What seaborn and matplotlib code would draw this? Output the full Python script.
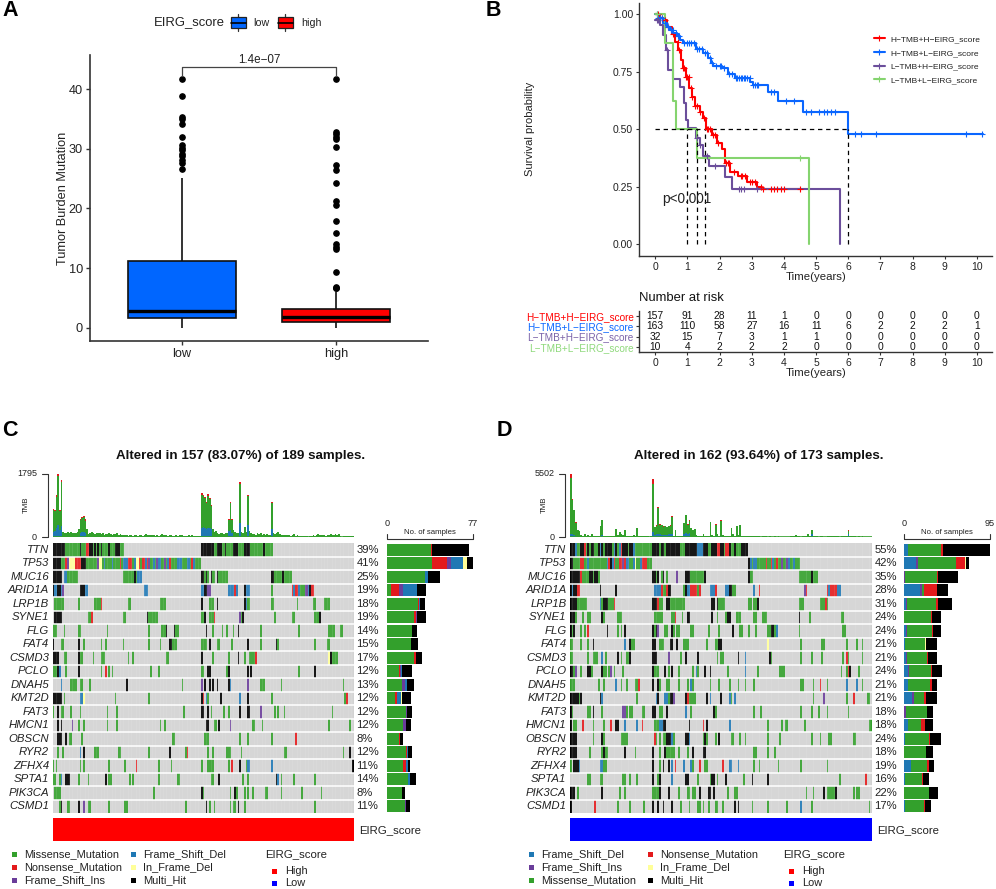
import re
import numpy as np
import pandas as pd
import seaborn as sns
import matplotlib
matplotlib.use("Agg")
import matplotlib.pyplot as plt
from matplotlib.colors import ListedColormap
from matplotlib.lines import Line2D
from matplotlib.patches import Rectangle

W, H = 996, 889

# =====================
# Panel A data
# =====================
low_box = [0.0, 0.2, 0.3, 0.4, 0.5, 0.6, 0.7, 0.8, 0.9, 1.0, 1.1, 1.2, 1.3, 1.4, 1.6, 1.7,
           1.8, 1.9, 1.9, 2.0, 2.1, 2.1, 2.2, 2.3, 2.4, 2.4, 2.5, 2.6, 2.7, 2.7, 2.8,
           3.1, 3.4, 3.8, 4.2, 4.7, 5.1, 5.6, 6.2, 6.8, 7.4, 8.1, 8.8, 9.6, 10.4, 11.2, 25.1]
low_out = [26.6, 27.6, 28.1, 28.8, 29.2, 29.8, 30.2, 30.6, 31.9, 34.1, 34.9, 35.3, 38.9, 41.6]
high_box = [0.0, 0.1, 0.1, 0.2, 0.2, 0.3, 0.3, 0.3, 0.4, 0.4, 0.5, 0.5, 0.5, 0.6, 0.6, 0.7, 0.7, 0.7, 0.8, 0.8, 0.8, 0.9,
            0.9, 1.0, 1.0, 1.0, 1.1, 1.1, 1.2, 1.2, 1.3, 1.3, 1.4, 1.4, 1.5, 1.5, 1.6, 1.6, 1.7, 1.7, 1.8, 1.8, 1.9,
            1.9, 2.0, 2.0, 2.1, 2.1, 2.2, 2.2, 2.3, 2.3, 2.4, 2.4, 2.5, 2.5, 2.6, 2.7, 2.7, 2.8, 2.9, 3.0, 3.1, 3.2, 6.0]
high_out = [6.7, 6.75, 6.9, 9.4, 13.2, 13.6, 14.0, 15.9, 17.9, 20.5, 21.3, 24.2, 26.5, 27.2, 30.3,
            31.7, 32.0, 32.4, 32.8, 41.6]

# =====================
# Panel B data
# =====================
km_labels = ["H\u2212TMB+H\u2212EIRG_score", "H\u2212TMB+L\u2212EIRG_score",
             "L\u2212TMB+H\u2212EIRG_score", "L\u2212TMB+L\u2212EIRG_score"]
km_colors = ["#FF0000", "#0A66FF", "#6B4E9B", "#85D46F"]
hh_time = [0, .14, .25, .35, .51, .61, .72, .79, .85, .95, 1.06, 1.13, 1.23, 1.39, 1.49, 1.57, 1.75, 1.91, 2.06, 2.17, 2.32, 2.58, 2.84, 3.15, 3.31, 4.5]
hh_surv = [1, .985, .975, .946, .917, .881, .845, .80, .765, .729, .678, .642, .601, .577, .548, .50, .475, .439, .414, .352, .316, .299, .272, .251, .239, .239]
hl_time = [0, .08, .25, .36, .46, .56, .66, .76, .87, 1.08, 1.28, 1.49, 1.65, 1.72, 1.80, 2.06, 2.27, 2.48, 2.96, 3.05, 3.51, 3.83, 4.60, 6.0, 10.2]
hl_surv = [1, .985, .961, .945, .932, .92, .906, .89, .877, .874, .848, .833, .809, .79, .775, .765, .741, .725, .707, .694, .664, .622, .577, .478, .478]
lh_time = [0, .15, .25, .32, .40, .54, .77, .89, .95, 1.03, 1.28, 1.39, 1.47, 1.67, 2.17, 2.37, 5.74, 5.74]
lh_surv = [.975, .954, .91, .845, .758, .719, .683, .613, .541, .507, .461, .432, .384, .342, .294, .242, .242, 0]
ll_time = [0, .30, .56, .64, 1.31, 4.79, 4.79]
ll_surv = [1, .877, .625, .50, .374, .374, 0]
hh_cens = [.1, .2, .3, .4, .55, .7, .75, .85, .9, .95, 1.0, 1.05, 1.1, 1.15, 1.25, 1.3, 1.4, 1.5, 1.6, 1.65, 1.7, 1.8, 1.85,
           1.95, 2.2, 2.25, 2.3, 2.45, 2.65, 2.7, 2.8, 2.95, 3.0, 3.1, 3.3, 3.35, 3.6, 3.7, 3.8, 3.9, 4.0, 4.5]
hl_cens = [.05, .1, .15, .2, .3, .4, .5, .55, .65, .7, .75, .9, 1.0, 1.05, 1.1, 1.2, 1.3, 1.35, 1.45, 1.55, 1.6, 1.7, 1.75,
           1.9, 2.0, 2.05, 2.15, 2.3, 2.4, 2.5, 2.55, 2.6, 2.65, 2.7, 2.75, 2.8, 2.85, 2.95, 3.05, 3.1, 3.15, 3.2, 3.6, 3.7,
           4.05, 4.3, 4.7, 4.85, 5.1, 5.25, 5.35, 5.45, 5.6, 6.2, 6.4, 6.85, 9.65, 10.15]
lh_cens = [.05, .1, .35, 1.3, 1.4, 1.6, 1.85, 2.6, 2.65, 2.75, 3.15]
ll_cens = [.05, 4.5]
median_times = [1.0, 1.3, 1.55, 6.0]
risk_hh = [157, 91, 28, 11, 1, 0, 0, 0, 0, 0, 0]
risk_hl = [163, 110, 58, 27, 16, 11, 6, 2, 2, 2, 1]
risk_lh = [32, 15, 7, 3, 1, 1, 0, 0, 0, 0, 0]
risk_ll = [10, 4, 2, 2, 2, 0, 0, 0, 0, 0, 0]

# =====================
# Oncoplot data
# =====================
genes = ["TTN", "TP53", "MUC16", "ARID1A", "LRP1B", "SYNE1", "FLG", "FAT4", "CSMD3", "PCLO",
         "DNAH5", "KMT2D", "FAT3", "HMCN1", "OBSCN", "RYR2", "ZFHX4", "SPTA1", "PIK3CA", "CSMD1"]
# M missense, N nonsense, I frame shift ins, D frame shift del, F in frame del, H multi hit
c_rows = [
    "H0-7 M8-16 H17 M18-20 N21-22 H23-24 M25 H26 M27 H28 M29 H30 M31-34 H35 M36-38 H39-41 M42-44 H93-100 M101-102 H103-105 M106-107 H108 M109-112 H113-115 M116-119 H120-123 M124-131 H132 M133-137",
    "H0-4 M5-7 N8 I9 F10-13 N14-17 H18-20 M21-27 I28 F29-30 M31 D32 M33-36 D37 M38-41 N42 M43 D44-46 N47-49 M50 D51 F52-53 N54 M55 N56-57 D58 N59 I60 M61-62 D63 M64 I65 D66-67 M68-69 I70 M71 D72 N73 M74-77 D78-80 M81-83 D84-85 M86 N87 D88 M89-92",
    "H0-5 D7-8 M9-15 M44-50 H51 M52 D53-55 H93-94 M95 H96 M97 H99 M100-101 H103 M104-109 H137-138 M139-143 H144 M145-149",
    "H0 D1-2 H3-4 D5 I6 H17-20 D20-21 D57-59 D93-94 H95-96 I97-98 D110-113 N114 D115 H120 D121-123 M137 N150 D151 N152-153 D154 M155-157 I158-159 D160 H161 N162-163",
    "M1-6 M16 M26-29 N30 M47-48 M67-70 H93 M98-100 H103 H120 D121 M122-123 M137-138 M153 M163-164 M170-173",
    "H1-5 M22-23 N24 M44-45 H59 M60-65 M93-94 H95 M98 M99-100 N101 I117 M118 H119 M139 M150-151 M164-166 H167",
    "M0-2 M7 M16-17 M34 M60 M68-70 H71 H76 M77-78 H96 M100 M106 M109 M113 H116 M130 M154 M173-176 M180-181",
    "H0 M5-6 H16 M19 M30 M33 M44 M60 M67 H73-74 M75-77 M93-96 H98 M103-104 M112 H122 M130 H140 M141 M164 M172-173",
    "H0-3 M7-8 H16 M17-18 M25 M30-32 M47 M50 M71-72 H93 M100 M110 H116 M120 M123-126 N127 F173 H174 M175-178",
    "M0-2 H3 D4 M8 H16 M30 N33 M35 M37 M61 M66 M93-94 H97-98 M109 H110 H122 H124 M154 H164",
    "D5 M11-14 M17-18 M23 H46 M81 I93 H95 H98 H100 H103 H110 D111 I122 M130-132 M143 M182",
    "H0-5 M7 D17-18 F19 M39 M60 H93 N94 D96 M97 H105 D117 H122 M137 M183 N184",
    "M0 H3 M5-6 M11 M17 M34 M40 M82 H93-94 H97 M99 M107 M110 H117 H122-123 I130 M139 M141 M145 M175",
    "H3 H5 I12 M16 M19 M34 M40 M67 M70 H96-97 M101-102 H104 I111 M125-126 M131 M173 M186",
    "H3-5 H8 M10-11 M18 M75-76 M95-97 M117 M122 M137 N152",
    "M3 M6 D17 H19 M26-28 M41-42 M60 H73 M83 N84 M97 M100 M109-111 M118 M145-146 M182 H186",
    "M0 M2 M17 M19 M35 M45 N52 M66 M74 M93 M97-100 M110 N112 H117 M121 D122-123 D137 H188",
    "M0-1 M4 D5 H8-10 M16 M22 H33 M35-36 M48 M50 M66 M78-79 M99-100 H104 M119 M122 H140 D141 M143 M151 M164",
    "M1-4 M63 H93 M94 M111 H114 M115 M120 M122 M125 M133-134 M143 M156 M168",
    "M4 H5 M9-10 H16 I19 M22-23 M35 M45-46 M83 H96 M98 M101 M111 M113-114 H116 M120 M164",
]
d_rows = [
    "H0-2 D3 M4-5 H6-7 N8 M9 H10 M11 H12-13 M14-15 H16 D17 H18 M19 H20-23 M24 D25 H26 M27 D28 N29 H30-32 M33 H34-35 D36 M37-46 H47-50 M51 H52-53 M54 H55-62 M63-65 H66-72 D73-75 H76-78 M79-80 H81-83 N84-85 H86-87 M88 N89-90 H91 M92-93 H94 M95-97 H98-101",
    "H0-1 M2-5 N6-7 M8-9 D10 M11-20 D21 N22 H23 D24 N25 M26-27 N28-29 I30 N31 D32-33 M34-35 D36 F37 M38-39 D40 N41-43 M44-46 H102 D103 M104 D105-106 M107-111 N112 M113-114 N115 D116 M117 N118 M119-120 I121 M122-123 I124 D125 M126-127 D128 M129-131",
    "H0-5 N6 M7-10 H11-12 M13 H14-15 M16 H47-48 M49 H50 M52 H53 M55 I61 H66-68 M69-76 H77 H102 M103-104 M131-137 H138 M139-141",
    "H0 D1 H2-3 N4-5 H17 H26 D48-51 N52 M53-54 N55 H56-57 M65 H66 D67-68 N69-72 M73 N74 D80-82 N83 D89-90 H91-92 M93-94 D105 N108 I134 N135 N147 D148 N149-152 D153-154",
    "H0-3 M4-9 D17 M18 H19-21 M22-24 N25 H47-49 N50 M51-52 H55-56 M57-65 H81-82 H84 M85-88 M102-103 M105-106 H107 M131-133 M143-145 N146 M147",
    "H0-2 M3 M7 M10-11 H18 M19 M27-29 M48-52 M58-59 N60 M64 H67-68 H81 M84 M89 H90-91 M95-97 M105-106 M110-112 H131 M137 M155-156",
    "H0 M1 H2 M6 M8 N10 H21 M27 M29 H31 H47 M48 H49 I50 M54-55 H58 M59 M61-62 M69-70 M79 M85 H93 M97-98 M102 M106 M113-114 H115-116 M117 D118 M131 M156-157",
    "M0-1 M6 M10 H13 D31 H34 M35-36 H47-48 M51-53 H57-58 H61 M65-67 M78 M83-84 H85-86 F113 M132 M144-145 M158 M164 M167",
    "M0-1 M10 M13-15 D18 M20 H27 M29 M32-33 H34 H47-49 I56 M63 H66 H73 M84 M86-87 H96 D100 H114 M115 M132 M138 M144 M156 N158 M159 M167",
    "H0-1 M2 I3 M6 H10-11 M12 H18 M19-20 M22 I23 M25 M30 H47 M48-50 H54 M56 H58 M62 M70 D72 M73 H77 H80 M90 D100 M107 M120-122 M155 M158 N159 H160 M165",
    "M0-2 M16 M19 D26 M29 M32 M37-38 N39 H47 H50 M51 M55-56 M62 M67 D69 M70 M80 M85 M91 M96 M100 M105 M132-133 M139 N143 M147 D158 D164 M167",
    "H0-4 M5 H6 H17 D18 M38 D49 H50 D54-55 M56 H57-58 I59 H66 N67 M68-71 H78 D80 H86 D91 M92 D94 M139 I145 M158 N162 M170-171",
    "H0 M1 M10-11 H13 M18 I30-31 M32 M34-35 M41-42 H47-48 M51-52 H55 D66 M69 H82 M83 M105 M109 M132 M138 M142 M147 M159",
    "H0 M2-3 N7 M13 M19 N23 H26-27 D31 D38 N41 M48-50 D51-52 H53-54 H68 N76 H78 D91 M113 M121 M123-124 M134 M171-172",
    "H0-3 M13 H18 M19 M29-32 N48 M49 M51 M53-54 H55-57 D58 M59 H66-67 D68 M76 H77 M78 M83 H85 M92-93 M97 M100 M113 M120 M138 M143 M148-149 M162-163",
    "H0-3 M11 M18 H19 M20-21 H31 M37 H47 M51 H54 M55-59 M62 M67 H70 H76-77 M105-106 M113 M117",
    "M0 H2-4 D5 D17-18 M19-20 H47 M51 H53 H56 D58 N60 D65 D69 M70 N74 M77-78 N87 D91-92 D96 M105 M108 M119 M132 M147",
    "M10-11 M17-18 M30-31 M34 M38 H47 M50 H51 D58 H66-67 M73 M80 H81-82 M84 H89 M99 H104 H113 M154 N169",
    "H0-2 M4 H18 M28 M31 M47-50 H51 H56 M62 M67-68 M70-71 H74 H79-80 H82 M90 M94-95 M135 M139 H145 M147-151 H152 M162 M164-165",
    "H0 N14 M27 M34 M42 H47 H50 H53 H58 M63 M68 M73-74 M76 M79 M83-84 M87 H94 H96 M104 M113 M124 D132 M138 M171",
]
c_pct = ["39%", "41%", "25%", "19%", "18%", "19%", "14%", "15%", "17%", "12%", "13%", "12%", "12%", "12%", "8%", "12%", "11%", "14%", "8%", "11%"]
d_pct = ["55%", "42%", "35%", "28%", "31%", "24%", "24%", "21%", "21%", "24%", "21%", "21%", "18%", "18%", "24%", "18%", "19%", "16%", "22%", "17%"]

# sample counts per gene in the side bars
c_missense = [40, 41, 34, 4, 28, 24, 23, 22, 24, 11, 14, 7, 17, 15, 11, 17, 15, 19, 14, 16]
c_nonsense = [1, 13, 0, 7, 1, 2, 0, 0, 2, 1, 0, 2, 0, 0, 1, 1, 2, 0, 0, 0]
c_fs_ins = [0, 4, 0, 4, 0, 1, 0, 0, 0, 1, 2, 0, 1, 2, 0, 0, 0, 0, 0, 1]
c_fs_del = [0, 10, 3, 12, 1, 0, 0, 0, 0, 1, 2, 4, 0, 0, 0, 1, 2, 2, 0, 0]
c_inframe = [0, 4, 0, 0, 0, 0, 0, 0, 0, 0, 0, 1, 0, 0, 0, 0, 0, 0, 0, 0]
c_multi = [33, 5, 11, 8, 4, 8, 4, 6, 6, 9, 6, 8, 5, 5, 3, 4, 2, 5, 2, 4]
d_fs_del = [4, 13, 0, 18, 2, 0, 2, 1, 2, 4, 4, 9, 0, 4, 1, 0, 8, 1, 0, 1]
d_fs_ins = [0, 2, 1, 2, 1, 0, 1, 0, 1, 1, 0, 2, 2, 0, 0, 0, 0, 0, 0, 0]
d_missense = [37, 42, 36, 2, 32, 30, 28, 22, 22, 25, 25, 11, 23, 15, 27, 24, 17, 19, 28, 21]
d_nonsense = [2, 10, 1, 14, 3, 1, 1, 0, 1, 1, 2, 2, 0, 4, 1, 0, 3, 1, 0, 1]
d_inframe = [0, 2, 0, 0, 0, 0, 0, 1, 0, 0, 0, 0, 0, 0, 0, 0, 0, 0, 0, 0]
d_multi = [52, 3, 22, 13, 15, 10, 9, 12, 10, 11, 5, 12, 7, 9, 12, 8, 5, 7, 10, 7]

# TMB per sample
c_tmb = [790, 780, 1190, 1795, 780, 1620, 140, 110, 120, 130,
         100, 130, 120, 100, 110, 130, 240, 525, 560, 590,
         500, 220, 90, 110, 130, 100, 80, 110, 100, 120,
         90, 100, 70, 90, 80, 110, 90, 70, 80, 90,
         110, 60, 80, 70, 60, 50, 60, 40, 50, 60,
         40, 70, 50, 40, 60, 50, 30, 60, 80, 70,
         60, 50, 70, 60, 40, 50, 40, 50, 90, 60,
         70, 60, 40, 50, 60, 40, 30, 50, 40, 50,
         60, 50, 40, 30, 40, 50, 30, 60, 40, 30,
         40, 20, 30, 1240, 1190, 1150, 1000, 1220, 1100, 900,
         240, 130, 180, 110, 90, 100, 120, 90, 110, 100,
         525, 1000, 525, 210, 140, 100, 110, 1575, 150, 120,
         290, 130, 1210, 180, 100, 90, 80, 70, 110, 90,
         100, 70, 80, 60, 90, 70, 60, 1000, 120, 90,
         100, 140, 90, 60, 70, 50, 60, 70, 50, 40,
         60, 80, 40, 50, 30, 20, 30, 40, 20, 30,
         10, 30, 20, 60, 40, 50, 90, 70, 60, 50,
         60, 40, 50, 60, 90, 50, 70, 90, 60, 80,
         20, 10, 20, 30, 40, 30, 20, 30, 20]
c_base_idx = [0, 1, 2, 3, 4, 5, 16, 17, 18, 19, 20, 93, 94, 95, 96, 97, 98, 99, 110, 111, 112, 117, 122, 137]
c_base_val = [150, 170, 250, 330, 200, 300, 30, 110, 130, 130, 120, 250, 290, 260, 230, 270, 250, 240, 160, 200, 110, 390, 330, 230]
c_tip_val = [30, 30, 40, 50, 30, 50, 15, 30, 30, 30, 30, 40, 30, 40, 30, 40, 30, 30, 30, 40, 30, 60, 40, 40]
d_tmb = [5500, 3280, 2400, 1300, 640, 520, 180, 120, 240, 100,
         160, 90, 240, 70, 120, 80, 60, 1000, 1520, 130,
         90, 70, 60, 110, 80, 100, 730, 150, 440, 280,
         170, 640, 120, 90, 100, 60, 140, 90, 820, 110,
         70, 100, 60, 80, 50, 40, 60, 5030, 880, 1020,
         2630, 1100, 1050, 950, 1000, 900, 980, 1020, 1840, 90,
         580, 120, 100, 90, 60, 1230, 1960, 1100, 1460, 790,
         600, 730, 180, 100, 120, 60, 250, 130, 80, 90,
         1320, 140, 100, 1110, 250, 130, 1460, 180, 90, 120,
         70, 100, 790, 300, 100, 970, 140, 1080, 80, 60,
         90, 50, 70, 110, 60, 80, 120, 60, 70, 40,
         50, 60, 70, 40, 60, 30, 40, 50, 30, 60,
         40, 30, 20, 40, 30, 30, 60, 110, 80, 150,
         60, 100, 40, 70, 50, 60, 250, 90, 640, 90,
         60, 50, 40, 60, 50, 30, 40, 60, 50, 120,
         60, 80, 130, 60, 40, 60, 50, 100, 90, 580,
         120, 60, 80, 50, 40, 60, 40, 50, 30, 40, 30, 30, 20]
d_base_idx = [0, 1, 2, 3, 17, 18, 47, 48, 49, 50, 51, 52, 53, 54, 55, 56, 57, 58, 65, 66, 67, 68, 80, 83, 86, 138, 159]
d_base_val = [260, 220, 180, 100, 120, 200, 420, 200, 230, 260, 220, 210, 190, 210, 200, 230, 240, 250, 300, 350, 280, 320, 100, 90, 120, 300, 280]
d_tip_val = [320, 60, 60, 60, 40, 60, 380, 40, 40, 70, 40, 40, 40, 40, 40, 40, 40, 70, 40, 60, 40, 40, 50, 40, 50, 30, 30]

mut_colors = {"M": "#33A02C", "N": "#E31A1C", "I": "#6A3D9A", "D": "#1F78B4", "F": "#FFFF99", "H": "#000000"}
mut_codes = {"M": 1, "N": 2, "I": 3, "D": 4, "F": 5, "H": 6}


def px_axes(fig, left, top, right, bottom):
    return fig.add_axes([left / W, 1 - bottom / H, (right - left) / W, (bottom - top) / H])


def build_matrix(rows, n_samples):
    mat = np.zeros((len(rows), n_samples), dtype=int)
    for r, row in enumerate(rows):
        for code, a, b in re.findall(r"([A-Z])(\d+)(?:-(\d+))?", row):
            mat[r, int(a):int(b or a) + 1] = mut_codes[code]
    return mat


sns.set_theme(style="white")
plt.rcParams["font.family"] = ["Liberation Sans", "DejaVu Sans"]
plt.rcParams["axes.unicode_minus"] = True

fig = plt.figure(figsize=(W / 100, H / 100), dpi=100, facecolor="white")

# =====================
# A: boxplot
# =====================
ax_a = px_axes(fig, 90, 55, 428, 341)
box_df = pd.DataFrame({
    "group": ["low"] * len(low_box + low_out) + ["high"] * len(high_box + high_out),
    "tmb": low_box + low_out + high_box + high_out,
})
sns.boxplot(data=box_df, x="group", y="tmb", hue="group", palette={"low": "#0066FF", "high": "#FF0000"},
            saturation=1, width=0.7, dodge=False, legend=False, linecolor="#111111", linewidth=1.2, showcaps=False,
            medianprops={"linewidth": 2.4, "color": "black"},
            flierprops={"marker": "o", "markersize": 3.8, "markerfacecolor": "black", "markeredgecolor": "black"},
            ax=ax_a)
ax_a.set_xlim(-0.597, 1.597)
ax_a.set_ylim(-2.2, 45.7)
ax_a.set_yticks([0, 10, 20, 30, 40])
ax_a.set_xlabel("")
ax_a.set_ylabel("Tumor Burden Mutation", fontsize=9.2, color="#222222", labelpad=0)
ax_a.tick_params(axis="both", length=3, width=1, color="#333333", labelsize=9.2, labelcolor="#222222", left=True, bottom=True, pad=2)
sns.despine(ax=ax_a)
for side in ["left", "bottom"]:
    ax_a.spines[side].set_linewidth(1.2)
    ax_a.spines[side].set_color("#333333")
ax_a.plot([0, 0, 1, 1], [42.2, 43.7, 43.7, 42.2], color="#444444", lw=0.9)
ax_a.text(0.5, 43.8, "1.4e\u221207", ha="center", va="bottom", fontsize=8.4, color="#222222")

# =====================
# B: survival curves
# =====================
ax_b = px_axes(fig, 639.3, 3, 992, 255.7)
km_curves = [(hh_time, hh_surv, hh_cens), (hl_time, hl_surv, hl_cens), (lh_time, lh_surv, lh_cens), (ll_time, ll_surv, ll_cens)]
for label, color, (times, survs, cens) in zip(km_labels, km_colors, km_curves):
    sns.lineplot(x=times, y=survs, drawstyle="steps-post", estimator=None, sort=False, color=color, lw=1.5, ax=ax_b)
    idx = np.searchsorted(times, cens, side="right") - 1
    ax_b.scatter(cens, np.array(survs)[idx], marker="+", s=22, linewidths=0.8, color=color, zorder=3)
ax_b.plot([0, 6], [0.5, 0.5], color="black", lw=0.9, ls=(0, (3.5, 3)))
for t in median_times:
    ax_b.plot([t, t], [0, 0.5], color="black", lw=0.9, ls=(0, (3.5, 3)))
ax_b.set_xlim(-0.497, 10.47)
ax_b.set_ylim(-0.05, 1.05)
ax_b.set_xticks(range(0, 11))
ax_b.set_yticks([0, 0.25, 0.5, 0.75, 1.0], ["0.00", "0.25", "0.50", "0.75", "1.00"])
ax_b.tick_params(axis="both", length=2.5, width=0.8, color="#333333", labelsize=7.5, labelcolor="#222222", left=True, bottom=True, pad=2)
ax_b.set_xlabel("Time(years)", fontsize=8.2, color="#222222", labelpad=0)
ax_b.set_ylabel("")
sns.despine(ax=ax_b)
for side in ["left", "bottom"]:
    ax_b.spines[side].set_linewidth(1)
    ax_b.spines[side].set_color("#333333")
ax_b.text(0.22, 0.195, "p<0.001", fontsize=9.8, color="#222222", va="center")
handles = [Line2D([], [], color=c, lw=1.5, marker="+", ms=5, mew=0.8) for c in km_colors]
ax_b.legend(handles, km_labels, frameon=False, fontsize=6, handlelength=1.3, handletextpad=0.7, labelspacing=0.7,
            loc="upper left", bbox_to_anchor=(0.665, 0.872), borderpad=0, borderaxespad=0, labelcolor="#222222")

# risk table
ax_r = px_axes(fig, 639.3, 311, 992, 352)
risk_rows = [risk_hh, risk_hl, risk_lh, risk_ll]
for r, row in enumerate(risk_rows):
    for t, n in enumerate(row):
        ax_r.text(t, 3 - r, str(n), ha="center", va="center", fontsize=7.4, color="#111111")
ax_r.set_xlim(-0.497, 10.47)
ax_r.set_ylim(-0.5, 3.5)
ax_r.set_xticks(range(0, 11))
ax_r.set_yticks([3, 2, 1, 0], km_labels)
for tick, c in zip(ax_r.get_yticklabels(), ["#FF0000", "#0A66FF", "#7A62A8", "#8FD97C"]):
    tick.set_color(c)
ax_r.tick_params(axis="both", length=2.5, width=0.8, color="#333333", labelsize=7.2, left=True, bottom=True, pad=1.5)
ax_r.tick_params(axis="x", labelcolor="#222222", labelsize=7.5, pad=2)
ax_r.set_xlabel("Time(years)", fontsize=8.2, color="#222222", labelpad=0)
sns.despine(ax=ax_r)
for side in ["left", "bottom"]:
    ax_r.spines[side].set_linewidth(1)
    ax_r.spines[side].set_color("#333333")

# overlay in pixel coordinates for labels and legend keys
ov = fig.add_axes([0, 0, 1, 1], zorder=10)
ov.set_xlim(0, W)
ov.set_ylim(H, 0)
ov.axis("off")


# =====================
# C / D: oncoplots
# =====================
def oncoplot(left, right, rows, tmb, base_idx, base_val, tip_val, stacks, stack_cols, pct, title, title_x,
             tmb_label, bar_left, bar_max, note_color):
    n = len(tmb)
    top, bottom = 543, 813
    # TMB bars
    ax_t = px_axes(fig, left, 474, right, 537)
    tmb = np.array(tmb, dtype=float)
    base = np.zeros(n)
    base[base_idx] = base_val
    tip = np.zeros(n)
    tip[base_idx] = tip_val
    x = np.arange(n) + 0.5
    ax_t.axhline(0, color=mut_colors["M"], lw=1.2)
    ax_t.bar(x, base, width=1, color=mut_colors["D"], lw=0)
    ax_t.bar(x, tmb - base - tip, bottom=base, width=1, color=mut_colors["M"], lw=0)
    ax_t.bar(x, tip, bottom=tmb - tip, width=1, color=mut_colors["N"], lw=0)
    ax_t.set_xlim(0, n)
    ax_t.set_ylim(0, tmb_label)
    ax_t.axis("off")

    # mutation matrix
    ax_m = px_axes(fig, left, top, right, bottom)
    mat = build_matrix(rows, n)
    cmap = ListedColormap(["#D2D2D2"] + [mut_colors[k] for k in "MNIDFH"])
    sns.heatmap(mat, cmap=cmap, vmin=-0.5, vmax=6.5, cbar=False, xticklabels=False, yticklabels=False, ax=ax_m)
    ax_m.vlines(np.arange(1, n), 0, len(rows), color="white", lw=0.3, alpha=0.45)
    ax_m.hlines(np.arange(1, len(rows)), 0, n, color="white", lw=1.1)

    # side bars
    ax_s = px_axes(fig, bar_left, top, bar_left + 86, bottom)
    start = np.zeros(len(genes))
    y = np.arange(len(genes)) + 0.5
    for vals, col in zip(stacks, stack_cols):
        ax_s.barh(y, vals, left=start, height=0.88, color=mut_colors[col], lw=0)
        start += np.array(vals)
    ax_s.set_xlim(0, bar_max)
    ax_s.set_ylim(len(genes), 0)
    ax_s.axis("off")

    row_h = (bottom - top) / len(genes)
    for i, g in enumerate(genes):
        yy = top + (i + 0.5) * row_h
        ov.text(left - 3.5, yy, g, ha="right", va="center", style="italic", fontsize=8.2, color="#222222")
        ov.text(right + 2.5, yy, pct[i], ha="left", va="center", fontsize=8.1, color="#222222")

    ov.text(title_x, 456, title, ha="center", va="center", fontsize=9.6, weight="bold", color="#111111")
    # TMB axis
    ax_x = left - 4.7
    ov.plot([ax_x - 6, ax_x, ax_x, ax_x - 6], [474, 474, 537, 537], color="#333333", lw=0.8)
    ov.text(ax_x - 11, 474, str(tmb_label), ha="right", va="center", fontsize=6.5, color="#222222")
    ov.text(ax_x - 11, 537, "0", ha="right", va="center", fontsize=6.5, color="#222222")
    ov.text(left - 26, 505, "TMB", rotation=90, ha="center", va="center", fontsize=5.7, color="#222222")
    # side bar axis
    br = bar_left + 86
    ov.plot([bar_left, bar_left, br, br], [534, 539, 539, 534], color="#333333", lw=0.8)
    ov.text(bar_left, 523.5, "0", ha="center", va="center", fontsize=6.6, color="#222222")
    ov.text(br, 523.5, str(bar_max), ha="center", va="center", fontsize=6.6, color="#222222")
    ov.text(bar_left + 43, 532, "No. of samples", ha="center", va="center", fontsize=5.6, color="#222222")
    # annotation bar
    ov.add_patch(Rectangle((left, 818), right - left, 23, color=note_color, lw=0))
    ov.text(right + 5, 830, "EIRG_score", ha="left", va="center", fontsize=8.2, color="#222222")


oncoplot(52.7, 354, c_rows, c_tmb, c_base_idx, c_base_val, c_tip_val,
         [c_missense, c_nonsense, c_fs_ins, c_fs_del, c_inframe, c_multi], "MNIDFH", c_pct,
         "Altered in 157 (83.07%) of 189 samples.", 241, 1795, 386.7, 77, "#FF0000")
oncoplot(570, 872, d_rows, d_tmb, d_base_idx, d_base_val, d_tip_val,
         [d_fs_del, d_fs_ins, d_missense, d_nonsense, d_inframe, d_multi], "DIMNFH", d_pct,
         "Altered in 162 (93.64%) of 173 samples.", 759, 5502, 904, 95, "#0000FF")


def square(x, y, color, size=5):
    ov.add_patch(Rectangle((x - size / 2, y - size / 2), size, size, color=color, lw=0))


def bottom_legend(col1, col2, sq1, txt1, sq2, txt2, title_x, sq3, txt3):
    for (label, key), y in zip(col1, [854, 867, 880]):
        square(sq1, y, mut_colors[key])
        ov.text(txt1, y, label, ha="left", va="center", fontsize=7.9, color="#222222")
    for (label, key), y in zip(col2, [854, 867, 880]):
        square(sq2, y, mut_colors[key])
        ov.text(txt2, y, label, ha="left", va="center", fontsize=7.9, color="#222222")
    ov.text(title_x, 854, "EIRG_score", ha="left", va="center", fontsize=8.2, color="#222222")
    for label, color, y in [("High", "#FF0000", 871), ("Low", "#0000FF", 883)]:
        square(sq3, y, color)
        ov.text(txt3, y, label, ha="left", va="center", fontsize=7.9, color="#222222")


bottom_legend([("Missense_Mutation", "M"), ("Nonsense_Mutation", "N"), ("Frame_Shift_Ins", "I")],
              [("Frame_Shift_Del", "D"), ("In_Frame_Del", "F"), ("Multi_Hit", "H")],
              14, 24, 133, 143, 265, 274.7, 285)
bottom_legend([("Frame_Shift_Del", "D"), ("Frame_Shift_Ins", "I"), ("Missense_Mutation", "M")],
              [("Nonsense_Mutation", "N"), ("In_Frame_Del", "F"), ("Multi_Hit", "H")],
              531.7, 541.3, 650, 660, 782.7, 791.7, 801.7)

# panel A legend keys
for (x0, color, label, tx) in [(231, "#0066FF", "low", 253), (278, "#FF0000", "high", 301)]:
    ov.plot([x0 + 7.2, x0 + 7.2], [14, 31], color="#333333", lw=0.9)
    ov.add_patch(Rectangle((x0, 17), 14.5, 11, facecolor=color, edgecolor="#222222", lw=0.9, zorder=3))
    ov.plot([x0, x0 + 14.5], [22.5, 22.5], color="black", lw=1.2, zorder=4)
    ov.text(tx, 23, label, ha="left", va="center", fontsize=7.7, color="#222222")
ov.text(154, 22.5, "EIRG_score", ha="left", va="center", fontsize=9.4, color="#222222")

ov.text(530, 129, "Survival probability", rotation=90, ha="center", va="center", fontsize=8, color="#222222")
ov.text(639.3, 298, "Number at risk", ha="left", va="center", fontsize=9.4, color="#111111")

# panel letters
for letter, x, y in [("A", 2, 10), ("B", 486, 10), ("C", 2, 431), ("D", 497, 431)]:
    ov.text(x, y, letter, ha="left", va="center", fontsize=15.5, weight="bold", color="black")

fig.savefig("out.png", dpi=100, facecolor="white")
